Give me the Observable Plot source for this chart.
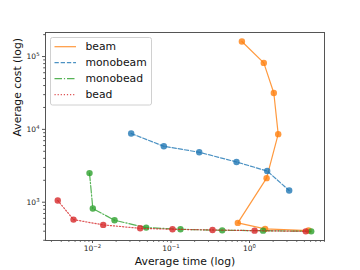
<!DOCTYPE html>
<html>
<head>
<meta charset="utf-8">
<script src="https://cdn.jsdelivr.net/npm/d3@7"></script>
<script src="https://cdn.jsdelivr.net/npm/@observablehq/plot@0.6"></script>
<style>
  html, body { margin: 0; padding: 0; background: #fff; }
  #chart { position: relative; width: 360px; height: 270px; }
</style>
</head>
<body>
<div id="chart"></div>
<script>
// ---- data ----
const seriesNames = ["beam", "monobeam", "monobead", "bead"];
const seriesColors = ["#ff7f0e", "#1f77b4", "#2ca02c", "#d62728"];
const seriesDash = [null, "4.3,1.9", "7.5,1.9,1.2,1.9", "1.2,1.9"];

const beamTime = [0.80, 1.52, 2.04, 2.32, 1.65, 0.71, 1.58, 5.65];
const beamCost = [161000, 81800, 31600, 8600, 2140, 520, 430, 408];

const monobeamTime = [0.0311, 0.081, 0.229, 0.683, 1.68, 3.2];
const monobeamCost = [8770, 5860, 4850, 3570, 2680, 1450];

const monobeadTime = [0.00916, 0.0101, 0.0191, 0.0483, 0.132, 0.449, 1.49, 6.11];
const monobeadCost = [2510, 819, 565, 448, 425, 411, 407, 398];

const beadTime = [0.00361, 0.00573, 0.0137, 0.0405, 0.1045, 0.338, 1.16, 5.21];
const beadCost = [1055, 577, 488, 438, 425, 416, 407, 398];

const xMajor = [0.01, 0.1, 1];
const xMajorLabels = ["10⁻²", "10⁻¹", "10⁰"];
const yMajor = [1000, 10000, 100000];
const yMajorLabels = ["10³", "10⁴", "10⁵"];
const xMinor = [0.003,0.004,0.005,0.006,0.007,0.008,0.009,
                0.02,0.03,0.04,0.05,0.06,0.07,0.08,0.09,
                0.2,0.3,0.4,0.5,0.6,0.7,0.8,0.9,
                2,3,4,5,6,7,8,9];
const yMinor = [300,400,500,600,700,800,900,
                2000,3000,4000,5000,6000,7000,8000,9000,
                20000,30000,40000,50000,60000,70000,80000,90000,200000];
const xLabel = "Average time (log)";
const yLabel = "Average cost (log)";

// ---- build table ----
const times = [beamTime, monobeamTime, monobeadTime, beadTime];
const costs = [beamCost, monobeamCost, monobeadCost, beadCost];
const series = seriesNames.map((name, i) => ({
  name, color: seriesColors[i], dash: seriesDash[i],
  rows: times[i].map((t, j) => ({series: name, time: t, cost: costs[i][j]}))
}));

const font = "DejaVu Sans, Liberation Sans, sans-serif";
const axisColor = "#555";

const marks = [
  Plot.frame({stroke: axisColor, strokeWidth: 1}),
  Plot.axisX(xMinor, {tickSize: 1.8, stroke: axisColor, fill: "none", label: null}),
  Plot.axisY(yMinor, {tickSize: 1.8, stroke: axisColor, fill: "none", label: null}),
  Plot.axisX(xMajor, {tickSize: 3, tickPadding: 2, stroke: axisColor, fill: "#222",
    fontSize: 7.5, label: null, tickFormat: d => xMajorLabels[xMajor.indexOf(d)]}),
  Plot.axisY(yMajor, {tickSize: 3, tickPadding: 3, stroke: axisColor, fill: "#222",
    fontSize: 7.5, label: null, tickFormat: d => yMajorLabels[yMajor.indexOf(d)]}),
  Plot.text([xLabel], {frameAnchor: "bottom", dy: 21, text: d => d, fontSize: 10.8, fill: "#111", lineAnchor: "middle"}),
  Plot.text([yLabel], {frameAnchor: "left", dx: -28, rotate: -90, text: d => d, fontSize: 10.8, fill: "#111", lineAnchor: "middle"})
];
for (const s of series) {
  marks.push(Plot.line(s.rows, {x: "time", y: "cost", stroke: s.color, strokeWidth: 1.2,
    strokeOpacity: 0.8, strokeDasharray: s.dash || undefined, curve: "linear"}));
  marks.push(Plot.dot(s.rows, {x: "time", y: "cost", r: 3.2, fill: s.color, fillOpacity: 0.8, stroke: "none"}));
}

const chart = Plot.plot({
  width: 360, height: 270,
  marginLeft: 45, marginRight: 36, marginTop: 32, marginBottom: 30,
  style: {fontFamily: font, background: "#fff", color: "#222"},
  x: {type: "log", domain: [0.00252, 9.02], axis: null},
  y: {type: "log", domain: [298, 2.14e5], axis: null},
  marks
});
document.getElementById("chart").appendChild(chart);

// ---- matplotlib-like superscripts for "10^k" tick labels ----
const supMap = {"⁻": "−", "⁰": "0", "¹": "1", "²": "2", "³": "3", "⁴": "4", "⁵": "5", "⁶": "6", "⁷": "7", "⁸": "8", "⁹": "9"};
d3.select(chart).selectAll("text").each(function() {
  const el = d3.select(this);
  if (el.selectAll("tspan").size() > 0) return;
  const t = el.text();
  const m = /^10([⁻⁰¹²³⁴⁵⁶⁷⁸⁹]+)$/.exec(t);
  if (!m) return;
  const exp = Array.from(m[1]).map(c => supMap[c]).join("");
  el.text(null);
  el.append("tspan").text("10");
  el.append("tspan").attr("font-size", 5.3).attr("dy", "-0.55em").text(exp);
});

// ---- legend (matplotlib-style box, upper left) ----
const svg = d3.select(chart);
const lg = svg.append("g").attr("font-family", font).attr("text-anchor", "start");
lg.append("rect").attr("x", 50.5).attr("y", 37.5).attr("width", 101).attr("height", 67.5)
  .attr("rx", 2).attr("fill", "#fff").attr("fill-opacity", 0.8)
  .attr("stroke", "#d0d0d0").attr("stroke-width", 1);
series.forEach((s, i) => {
  const yy = 46.7 + i * 16;
  lg.append("line").attr("x1", 54.5).attr("x2", 76).attr("y1", yy).attr("y2", yy)
    .attr("stroke", s.color).attr("stroke-opacity", 0.8).attr("stroke-width", 1.2)
    .attr("stroke-dasharray", s.dash);
  lg.append("text").attr("x", 85.5).attr("y", yy).attr("dy", "0.35em")
    .attr("font-size", 10.8).attr("fill", "#111").text(s.name);
});
</script>
</body>
</html>
